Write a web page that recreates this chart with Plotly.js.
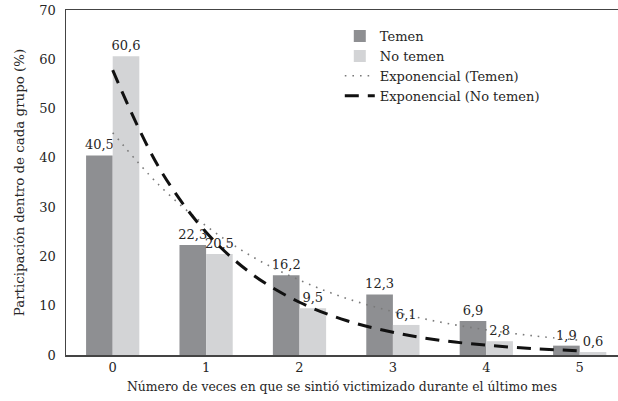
<!DOCTYPE html>
<html>
<head>
<meta charset="utf-8">
<script src="https://cdn.plot.ly/plotly-3.0.1.min.js"></script>
<style>html,body{margin:0;padding:0;background:#fff;}#chart{width:618px;height:401px;}</style>
</head>
<body>
<div id="chart"></div>
<script>
// Categories (number of times victimized)
var categories = [0, 1, 2, 3, 4, 5];
// Bar values (%)
var temen = [40.5, 22.3, 16.2, 12.3, 6.9, 1.9];
var noTemen = [60.6, 20.5, 9.5, 6.1, 2.8, 0.6];
// Exponential trend lines at half-steps
var trendX = [0, 0.5, 1, 1.5, 2, 2.5, 3, 3.5, 4, 4.5, 5];
var trendTemen = [45.1, 34.4, 26.2, 19.9, 15.2, 11.5, 8.8, 6.7, 5.1, 3.9, 3.0];
var trendNoTemen = [57.8, 37.9, 24.9, 16.3, 10.7, 7.0, 4.6, 3.0, 2.0, 1.3, 0.86];
var tickLabels = ['0', '1', '2', '3', '4', '5'];

var serif = 'DejaVu Serif';
var fs = 13;
var txt = '#262626';

var traces = [
  {type: 'bar', name: 'Temen', x: categories, y: temen,
   marker: {color: '#8e8f92'}, texttemplate: '%{y:.1f}',
   textposition: 'outside', cliponaxis: false, constraintext: 'none',
   textfont: {family: serif, size: 13, color: txt}},
  {type: 'bar', name: 'No temen', x: categories, y: noTemen,
   marker: {color: '#d3d4d6'}, texttemplate: '%{y:.1f}',
   textposition: 'outside', cliponaxis: false, constraintext: 'none',
   textfont: {family: serif, size: 13, color: txt}},
  {type: 'scatter', mode: 'lines', name: 'Exponencial (Temen)', x: trendX, y: trendTemen,
   line: {color: '#7a7a7a', width: 1.6, dash: '1.6px,6px', shape: 'spline'}},
  {type: 'scatter', mode: 'lines', name: 'Exponencial (No temen)', x: trendX, y: trendNoTemen,
   line: {color: '#111', width: 3, dash: '14px,9px', shape: 'spline'}}
];

var layout = {
  width: 618, height: 401,
  margin: {l: 66, r: 0, t: 10, b: 46, pad: 0},
  paper_bgcolor: '#fff', plot_bgcolor: '#fff',
  separators: ',.',
  font: {family: serif, size: fs, color: txt},
  barmode: 'group', bargap: 0.43, bargroupgap: 0,
  showlegend: true,
  legend: {x: 0.496, y: 0.968, xanchor: 'left', yanchor: 'top',
           bgcolor: 'rgba(0,0,0,0)', font: {family: serif, size: fs, color: txt},
           tracegroupgap: 0, traceorder: 'normal'},
  xaxis: {
    range: [-0.5, 5.41], tickmode: 'array', tickvals: categories, ticktext: tickLabels,
    showline: true, linecolor: '#444', linewidth: 1.5, mirror: true,
    showgrid: false, zeroline: false, ticks: '',
    tickfont: {family: serif, size: fs, color: txt},
    title: {text: 'Número de veces en que se sintió victimizado durante el último mes',
            font: {family: serif, size: 12.4, color: txt}, standoff: 8}
  },
  yaxis: {
    range: [0, 70], dtick: 10, showline: true, linecolor: '#444', linewidth: 1.5,
    showgrid: false, zeroline: false, ticks: '', ticklabelstandoff: 6,
    tickfont: {family: serif, size: fs, color: txt},
    title: {text: 'Participación dentro de cada grupo (%)',
            font: {family: serif, size: 13.4, color: txt}, standoff: 11}
  }
};

Plotly.newPlot('chart', traces, layout, {displayModeBar: false, staticPlot: true});
</script>
</body>
</html>
